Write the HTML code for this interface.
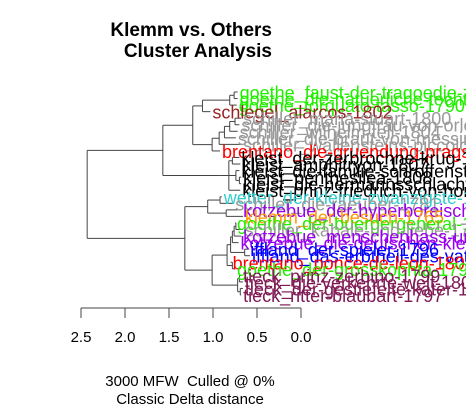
<!DOCTYPE html>
<html><head><meta charset="utf-8"><style>
html,body{margin:0;padding:0;background:#fff;}
svg{display:block;font-family:"Liberation Sans",sans-serif;}
</style></head><body>
<svg id="chart" width="466" height="406" viewBox="0 0 466 406" xmlns="http://www.w3.org/2000/svg">
<text x="272" y="36" text-anchor="end" font-size="19" font-weight="bold">Klemm vs. Others</text>
<text x="272" y="57" text-anchor="end" font-size="19" font-weight="bold">Cluster Analysis</text>
<text x="190" y="386" text-anchor="middle" font-size="15" xml:space="preserve">3000 MFW  Culled @ 0%</text>
<text x="190" y="404" text-anchor="middle" font-size="15">Classic Delta distance</text>
<g id="tree"></g>
<g id="labels"></g>
<g id="axis"></g>
</svg>
<script>
const leafLabels = ["goethe_faust-der-tragoedie-zweiter-1832","goethe_die-natuerliche-tochter-1803","goethe_torquato-tasso-1790","schlegel_alarcos-1802","schiller_maria-stuart-1800","schiller_die-jungfrau-von-orleans-1801","schiller_wilhelm-tell-1804","schiller_die-braut-von-messina-1803","schiller_wallensteins-piccolomini-1799","brentano_die-gruendung-prags-1815","kleist_der-zerbrochne-krug-1808","kleist_amphitryon-1807","kleist_die-familie-schroffenstein-1803","kleist_penthesilea-1808","kleist_die-hermannsschlacht-1808","kleist_prinz-friedrich-von-homburg-1810","wetter_der-kleine-zwanzigste-1790","schiller_die-raeuber-1781","kotzebue_der-hyperboreische-esel-1799","klemm_der-besuch-1765","goethe_der-buergergeneral-1793","schiller_kabale-und-liebe-1784","kotzebue_menschenhass-und-reue-1789","kotzebue_die-deutschen-kleinstaedter-1803","iffland_der-spieler-1796","iffland_das-erbtheil-des-vaters-1800","brentano_ponce-de-leon-1803","goethe_der-grosskophta-1791","tieck_prinz-zerbino-1799","tieck_die-verkehrte-welt-1800","tieck_der-gestiefelte-kater-1797","tieck_ritter-blaubart-1797"];
const leafColors = ["#22ee00","#22ee00","#22ee00","#992222","#999999","#999999","#999999","#999999","#999999","#ff0000","#000000","#000000","#000000","#000000","#000000","#000000","#33cccc","#999999","#9900ee","#ff9900","#22ee00","#999999","#9900ee","#9900ee","#0000ff","#0000ff","#ff0000","#22ee00","#801a55","#801a55","#801a55","#801a55"];
const leafHeights = [0.72,0.72,0.73,1.03,0.68,0.70,0.72,0.74,0.68,0.92,0.70,0.69,0.70,0.68,0.68,0.69,0.90,0.77,0.68,0.66,0.75,0.66,0.68,0.71,0.60,0.58,0.80,0.75,0.68,0.66,0.66,0.68];
// nested merges: [height, child, child...]; numbers are leaf indices
const treeData = [2.43,
  [1.57,
    [1.23,
      [1.12, [0.81, [0.76, 0, 1], 2], 3],
      [1.01, [0.99, [0.93, [0.87, [0.81, [0.75, 4, 5], 6], 7], 8]], 9]],
    [0.93, [0.82, [0.78, 10, 11], [0.74, 12, [0.70, 13, 14]], 15]]],
  [1.32,
    [1.06, [0.92, 16, 17], [0.85, 18, 19]],
    [1.01,
      [0.84, [0.80, [0.78, [0.76, [0.74, 20, 21], 22], 23], [0.64, 24, 25]], [0.78, 26, 27]],
      [0.72, [0.70, 28, 29], [0.69, 30, 31]]]]];
const axisTicks = [2.5, 2.0, 1.5, 1.0, 0.5, 0.0];
const axisTickLabels = ["2.5", "2.0", "1.5", "1.0", "0.5", "0.0"];

const NS = "http://www.w3.org/2000/svg";
const xScale = h => 301 - 88 * h;
const yTop = 92, yStep = (295 - 92) / (leafLabels.length - 1);
const yScale = i => yTop + i * yStep;
const treeG = document.getElementById('tree');
const labG = document.getElementById('labels');
const axG = document.getElementById('axis');
function line(g, x1, y1, x2, y2, name) {
  const l = document.createElementNS(NS, 'line');
  l.setAttribute('x1', x1); l.setAttribute('y1', y1);
  l.setAttribute('x2', x2); l.setAttribute('y2', y2);
  l.setAttribute('stroke', '#444'); l.setAttribute('stroke-width', '1');
  
  
  g.appendChild(l);
}
function layout(node) {
  if (typeof node === 'number') return { x: xScale(leafHeights[node]), y: yScale(node) };
  const h = node[0];
  const kids = node.slice(1).map(layout);
  const x = xScale(h);
  const ys = kids.map(k => k.y);
  const y = ys.reduce((a, b) => a + b, 0) / ys.length;
  line(treeG, x, Math.min(...ys), x, Math.max(...ys), 'tree-node-vertical');
  kids.forEach(k => line(treeG, x, k.y, k.x, k.y, 'tree-branch'));
  return { x, y };
}
const root = layout(treeData);
leafLabels.forEach((lab, i) => {
  const t = document.createElementNS(NS, 'text');
  t.setAttribute('x', xScale(leafHeights[i]) + 2);
  t.setAttribute('y', yScale(i) + 7);
  t.setAttribute('font-size', '18');
  t.setAttribute('fill', leafColors[i]);
  
  
  t.textContent = lab;
  labG.appendChild(t);
});
line(axG, xScale(axisTicks[0]), 308, xScale(axisTicks[axisTicks.length - 1]), 308, 'x-axis-line');
axisTicks.forEach((v, i) => {
  line(axG, xScale(v), 308, xScale(v), 318, 'x-axis-tick');
  const t = document.createElementNS(NS, 'text');
  t.setAttribute('x', xScale(v)); t.setAttribute('y', 342);
  t.setAttribute('text-anchor', 'middle'); t.setAttribute('font-size', '15');
  
  
  t.textContent = axisTickLabels[i];
  axG.appendChild(t);
});
</script>
</body></html>
